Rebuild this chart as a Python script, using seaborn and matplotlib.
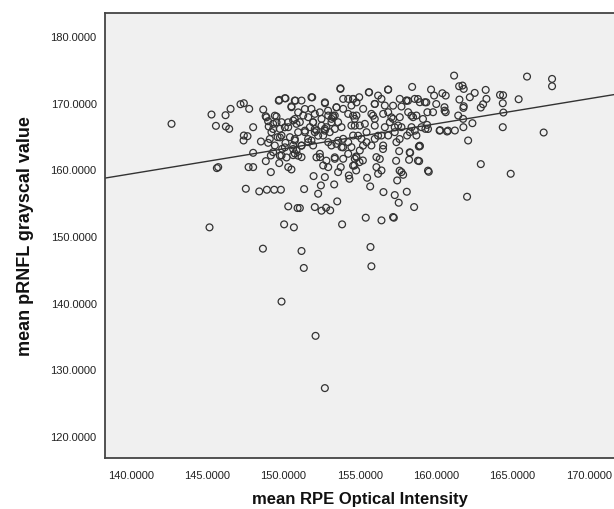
import matplotlib
matplotlib.use("Agg")
import matplotlib.pyplot as plt
import matplotlib.ticker as mticker
import seaborn as sns
import pandas as pd

rpe_intensity = [
    142.66, 145.28, 145.57, 146.20, 146.22, 146.44, 146.53, 147.18, 147.40, 147.75,
    147.40, 147.64, 147.38, 148.01, 145.63, 145.72, 147.71, 148.01, 148.01, 148.52,
    147.53, 148.41, 148.91, 149.39, 149.83, 145.15, 148.65, 149.87, 150.04, 150.68,
    150.31, 150.92, 151.07, 151.18, 151.33, 151.35, 152.05, 152.10, 152.71, 152.49,
    152.79, 153.06, 153.52, 153.84, 152.27, 151.97, 152.71, 152.45, 153.32, 155.39,
    155.70, 155.76, 155.68, 155.48, 156.42, 157.18, 157.23, 156.55, 157.29, 157.55,
    158.08, 158.56, 157.45, 157.84, 157.73, 159.52, 158.89, 158.30, 158.23, 157.58,
    157.38, 158.87, 158.94, 162.03, 162.10, 162.93, 164.89, 167.05, 164.37, 164.41,
    164.37, 164.19, 164.39, 165.41, 165.96, 167.60, 167.60, 163.25, 163.30, 163.08,
    162.93, 162.53, 162.21, 162.38, 161.79, 161.77, 161.81, 161.79, 161.53, 161.45,
    161.23, 161.18, 161.51, 161.73, 161.81, 160.72, 160.26, 160.63, 160.55, 160.63,
    160.41, 159.67, 159.87, 159.80, 159.43, 159.41, 159.30, 158.43, 158.49, 158.28,
    158.10, 158.71, 156.86, 155.59, 153.73, 151.83, 152.72, 150.09, 149.72, 150.74,
    151.18, 148.67, 148.83, 149.54, 148.99, 149.03, 149.61, 149.43, 148.99, 149.17,
    148.84, 149.72, 149.17, 150.31, 150.52, 149.91, 150.13, 150.20, 150.63, 150.74,
    150.74, 150.31, 150.52, 150.63, 150.85, 151.07, 151.40, 151.18, 151.62, 151.73,
    151.83, 152.05, 152.16, 152.38, 152.40, 152.60, 152.93, 152.60, 152.81, 153.14,
    153.36, 153.47, 153.91, 154.24, 154.56, 154.96, 153.80, 153.91, 153.47, 153.80,
    154.24, 154.45, 154.24, 153.91, 153.36, 153.75, 153.58, 154.28, 154.32, 154.76,
    154.98, 154.65, 155.20, 154.76, 155.76, 156.09, 156.09, 156.42, 156.20, 155.11,
    155.44, 155.00, 154.78, 155.22, 155.76, 155.98, 156.20, 156.42, 156.64, 156.53,
    156.86, 156.97, 156.64, 156.42, 156.86, 156.53, 157.40, 157.29, 157.51, 157.62,
    157.73, 157.62, 158.06, 158.60, 158.93, 159.26, 158.17, 158.71, 159.04, 158.39,
    157.73, 157.18, 155.98, 155.33, 154.45, 154.24, 153.91, 154.45, 154.56, 153.03,
    152.93, 153.14, 152.71, 152.49, 153.25, 151.62, 151.29, 151.94, 152.05, 151.83,
    151.94, 150.96, 150.42, 149.87, 149.76, 149.87, 149.32, 149.21, 149.32, 149.87,
    150.63, 150.85, 151.18, 154.67, 155.00, 155.44, 155.98, 153.58, 152.93, 154.67,
    149.69, 150.13, 150.78, 151.88, 152.71, 148.88, 149.43, 150.52, 150.96, 151.40,
    152.38, 152.92, 149.54, 150.30, 150.74, 151.94, 152.49, 153.14, 149.32, 150.09,
    151.40, 152.05, 152.71, 149.10, 149.76, 150.74, 151.61, 152.27, 150.09, 150.63,
    151.18, 149.76, 150.96, 152.16, 152.81,
    153.73, 154.56, 155.61, 156.85, 158.05, 153.47, 154.78, 155.98, 157.18, 153.25,
    154.56, 155.87, 157.07, 153.36, 154.67, 155.98, 157.29, 153.58, 154.89, 156.20,
    157.61, 153.90, 155.21, 156.52, 153.36, 154.78, 156.31, 154.56, 157.61,
    158.81, 159.36, 160.01, 158.16, 160.56, 159.14, 158.38, 160.23, 160.78, 159.47,
    158.60, 158.27, 158.92, 158.81, 159.47,
]

prnfl_grayscale = [
    166.85, 168.25, 166.55, 168.15, 166.45, 166.10, 169.10, 169.80, 169.95, 169.10,
    165.10, 165.00, 164.35, 166.35, 160.20, 160.35, 160.35, 160.35, 162.50, 164.20,
    157.10, 156.70, 156.95, 156.95, 156.95, 151.30, 148.10, 140.15, 151.75, 151.30,
    154.45, 154.20, 154.20, 147.75, 145.20, 157.05, 154.35, 135.00, 127.15, 153.80,
    154.25, 153.85, 155.20, 151.75, 156.35, 159.00, 158.85, 157.60, 157.75, 152.75,
    148.35, 145.45, 157.45, 158.75, 152.35, 152.85, 152.75, 156.60, 156.15, 155.00,
    156.65, 154.35, 158.35, 159.20, 159.60, 159.65, 161.25, 162.50, 161.45, 162.75,
    161.30, 163.45, 163.50, 155.90, 164.35, 160.80, 159.35, 165.55, 166.35, 168.55,
    169.95, 171.20, 171.15, 170.55, 173.95, 173.60, 172.50, 171.95, 170.60, 169.80,
    169.30, 171.50, 170.85, 166.95, 166.35, 167.60, 169.50, 169.25, 170.50, 168.10,
    165.85, 174.10, 172.50, 172.60, 172.10, 165.70, 165.90, 168.60, 169.35, 171.10,
    171.45, 172.00, 171.10, 168.60, 168.60, 166.70, 166.10, 172.40, 167.85, 165.60,
    165.10, 165.10, 172.00, 171.60, 172.10, 170.85, 169.95, 170.70, 170.45, 170.35,
    170.35, 169.00, 168.00, 167.95, 167.25, 166.45, 164.85, 163.60, 164.00, 162.10,
    161.25, 160.95, 159.60, 160.35, 160.00, 163.10, 164.00, 161.80, 162.15, 162.40,
    164.35, 166.35, 169.35, 167.35, 166.85, 167.10, 165.60, 163.60, 164.10, 166.35,
    169.10, 168.35, 165.85, 162.35, 161.85, 160.60, 160.35, 165.10, 166.35, 167.60,
    168.10, 169.35, 170.60, 170.60, 170.60, 170.85, 166.35, 164.60, 163.85, 163.35,
    164.10, 163.35, 162.35, 161.60, 161.60, 160.35, 159.60, 159.10, 158.60, 161.95,
    161.10, 160.60, 161.35, 159.85, 163.60, 161.85, 160.35, 159.85, 159.35, 164.60,
    165.60, 166.60, 168.10, 169.10, 168.35, 169.85, 171.10, 170.60, 169.60, 168.35,
    168.60, 167.10, 166.35, 165.10, 165.10, 163.60, 164.10, 165.60, 166.60, 167.85,
    169.45, 170.60, 170.35, 170.60, 170.10, 170.10, 168.60, 168.10, 166.35, 166.35,
    166.35, 167.60, 167.60, 166.85, 166.60, 168.35, 169.10, 169.60, 165.10, 165.60,
    164.10, 163.60, 166.10, 167.60, 167.85, 167.85, 168.10, 167.10, 165.60, 164.35,
    163.60, 165.60, 164.85, 165.10, 166.10, 167.10, 166.85, 165.60, 162.60, 162.10,
    163.60, 162.85, 161.85, 161.60, 162.85, 164.10, 164.60, 167.10, 168.10, 167.60,
    170.33, 170.68, 170.33, 170.83, 170.08, 167.83, 168.08, 169.48, 168.58, 169.08,
    168.58, 168.83, 167.08, 167.08, 167.58, 167.08, 166.58, 167.08, 166.08, 166.33,
    165.83, 166.08, 165.83, 164.57, 164.82, 164.57, 164.57, 165.07, 163.32, 163.07,
    163.57, 162.07, 162.07, 161.82, 161.32,
    172.19, 170.58, 171.58, 171.99, 170.33, 169.33, 170.08, 169.83, 169.58, 168.08,
    168.08, 168.08, 167.83, 166.08, 166.58, 166.58, 166.33, 164.32, 165.07, 165.07,
    164.57, 163.32, 163.57, 163.07, 161.82, 161.82, 161.57, 160.57, 159.82,
    170.58, 170.08, 169.83, 170.33, 168.83, 167.58, 168.08, 165.83, 165.83, 166.08,
    165.83, 162.57, 163.57, 161.32, 159.82,
]

# Linear fit line (intercept, slope) as shown in the reference
fit_intercept = 106.7
fit_slope = 0.376

x_ticks = [140, 145, 150, 155, 160, 165, 170]
y_ticks = [120, 130, 140, 150, 160, 170, 180]

df = pd.DataFrame({"rpe": rpe_intensity, "prnfl": prnfl_grayscale})

sns.set_style("white")
plt.rcParams["font.family"] = ["Liberation Sans", "DejaVu Sans"]

fig = plt.figure(figsize=(6.14, 5.10), dpi=100)
ax = fig.add_axes([0.171, 0.10, 0.829, 0.8725])
ax.set_facecolor("#f0f0f0")

sns.scatterplot(data=df, x="rpe", y="prnfl", ax=ax, marker="o", s=24,
                facecolor="none", edgecolor="#333333", linewidth=0.9, zorder=3)
ax.axline((0, fit_intercept), slope=fit_slope, color="#333333", linewidth=1.0, zorder=2)

ax.set_xlim(138.3, 171.66)
ax.set_ylim(116.65, 183.5)
ax.set_xticks(x_ticks)
ax.set_yticks(y_ticks)
ax.xaxis.set_major_formatter(mticker.FormatStrFormatter("%.4f"))
ax.yaxis.set_major_formatter(mticker.FormatStrFormatter("%.4f"))
ax.tick_params(axis="x", direction="out", length=7, width=1.2, color="#333333",
               labelsize=8, labelcolor="#222222", pad=2)
ax.tick_params(axis="y", direction="out", length=4, width=1.0, color="#333333",
               labelsize=8, labelcolor="#222222", pad=2)

for side in ["left", "bottom", "top"]:
    ax.spines[side].set_color("#444444")
    ax.spines[side].set_linewidth(1.3)
ax.spines["right"].set_visible(False)

ax.set_xlabel("mean RPE Optical Intensity", fontsize=12, fontweight="bold",
              color="#111111", labelpad=7.5)
ax.set_ylabel("mean pRNFL grayscal value", fontsize=13, fontweight="bold",
              color="#111111", labelpad=12)

fig.savefig("out.png", dpi=100)
